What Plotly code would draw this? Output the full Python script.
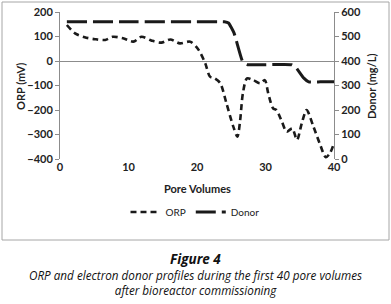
import plotly.graph_objects as go

# ORP series (pore volumes, mV)
pv_orp = [1, 2.2, 3.6, 5.1, 6.6, 7.7, 9.2, 10.7, 11.9, 13.4, 14.8, 16.1, 17.5, 19, 19.9,
          20.4, 21.2, 21.9, 22.6, 23.4, 24.3, 25.3, 25.9, 26.3, 26.7, 27.3, 28.2, 29.2,
          29.9, 30.4, 31.1, 31.6, 32.4, 33.1, 33.9, 34.6, 35.3, 36.0, 37.0, 38.0, 38.8,
          39.4, 39.9]
orp = [147, 113, 97, 89, 86, 99, 93, 79, 99, 83, 75, 88, 72, 79, 58,
       38, -9, -64, -71, -91, -173, -268, -309, -241, -132, -71, -78, -91,
       -78, -132, -193, -200, -248, -289, -275, -322, -254, -200, -268, -343, -393,
       -377, -343]

# Donor series (pore volumes, mg/L)
pv_donor = [1, 10, 20, 24, 24.6, 25.4, 26.7, 27.4, 30, 33.8, 34.4, 35.6, 36.3, 38, 40]
donor = [560, 560, 560, 560, 555, 515, 395, 385, 385, 385, 375, 330, 315, 315, 315]

x_ticks = [0, 10, 20, 30, 40]

L, R, T, B = 60, 334, 12, 159
W, H = 391, 304
pw, ph = R - L, B - T


def px(x):
    return (x - L) / pw


def py(y):
    return (B - y) / ph


FONT = "Lato"
col = "#1a1a1a"
axcol = "#8c8c8c"

fig = go.Figure()
fig.add_trace(go.Scatter(x=pv_orp, y=orp, name="ORP", mode="lines",
                         line=dict(color=col, width=2.6, dash="6px,4px", shape="spline",
                                   smoothing=0.8)))
fig.add_trace(go.Scatter(x=pv_donor, y=donor, name="Donor", mode="lines", yaxis="y2",
                         line=dict(color=col, width=3, dash="20px,6px", shape="spline",
                                   smoothing=0.4)))

tickfont = dict(family=FONT, size=11, color="#222", weight="bold")

fig.update_layout(
    width=W, height=H,
    margin=dict(l=L, r=W - R, t=T, b=H - B, autoexpand=False),
    paper_bgcolor="white", plot_bgcolor="white",
    showlegend=True,
    legend=dict(orientation="h", x=195 / W, xref="container", xanchor="center",
                y=1 - 212 / H, yref="container", yanchor="middle",
                font=dict(family=FONT, size=10, color="#222"), bgcolor="rgba(0,0,0,0)",
                tracegroupgap=0),
    xaxis=dict(range=[0, 40], tickvals=x_ticks, showline=False, showgrid=False,
               zeroline=False, ticks="", tickfont=tickfont),
    xaxis2=dict(range=[0, 40], tickvals=x_ticks, overlaying="x", anchor="free",
                position=2 / 3, showticklabels=False, showline=False,
                showgrid=False, zeroline=False, ticks="outside", ticklen=3,
                tickcolor=axcol, tickwidth=1),
    yaxis=dict(range=[-400, 200], dtick=100, showline=True, linecolor=axcol, linewidth=1,
               ticks="outside", ticklen=4, tickcolor=axcol, showgrid=False,
               zeroline=True, zerolinecolor=axcol, zerolinewidth=1, tickfont=tickfont),
    yaxis2=dict(range=[0, 600], dtick=100, overlaying="y", side="right", showline=True,
                linecolor=axcol, linewidth=1, ticks="outside", ticklen=4, tickcolor=axcol,
                showgrid=False, zeroline=False, tickfont=tickfont),
)

ann = [
    dict(text="<b>Pore Volumes</b>", x=0.5, y=py(188), size=11, angle=0),
    dict(text="<b>ORP (mV)</b>", x=px(20), y=py(87), size=11, angle=-90),
    dict(text="<b>Donor (mg/L)</b>", x=px(371), y=py(86), size=11, angle=-90),
]
for a in ann:
    fig.add_annotation(text=a["text"], x=a["x"], y=a["y"], xref="paper", yref="paper",
                       xanchor="center", yanchor="middle",
                       showarrow=False, textangle=a["angle"],
                       font=dict(family=FONT, size=a["size"], color="#222"))

cap_font = "Open Sans"
fig.add_annotation(text="<b><i>Figure 4</i></b>", x=px(195.5), y=py(259),
                   xref="paper", yref="paper", xanchor="center", yanchor="middle",
                   showarrow=False, font=dict(family=cap_font, size=13.5, color="#111"))
fig.add_annotation(text="<i>ORP and electron donor profiles during the first 40 pore volumes"
                        "<br>after bioreactor commissioning</i>",
                   x=px(195.5), y=py(282.5), xref="paper", yref="paper",
                   xanchor="center", yanchor="middle", showarrow=False, align="center",
                   font=dict(family=cap_font, size=11.7, color="#111"))

# chart border
fig.add_shape(type="rect", xref="paper", yref="paper",
              x0=px(2), x1=px(389), y0=py(2), y1=py(240),
              line=dict(color="#a6a6a6", width=1), fillcolor="rgba(0,0,0,0)", layer="below")

fig.write_html("out.html", config={"displayModeBar": False},
               post_script="document.body.style.margin='0';")
